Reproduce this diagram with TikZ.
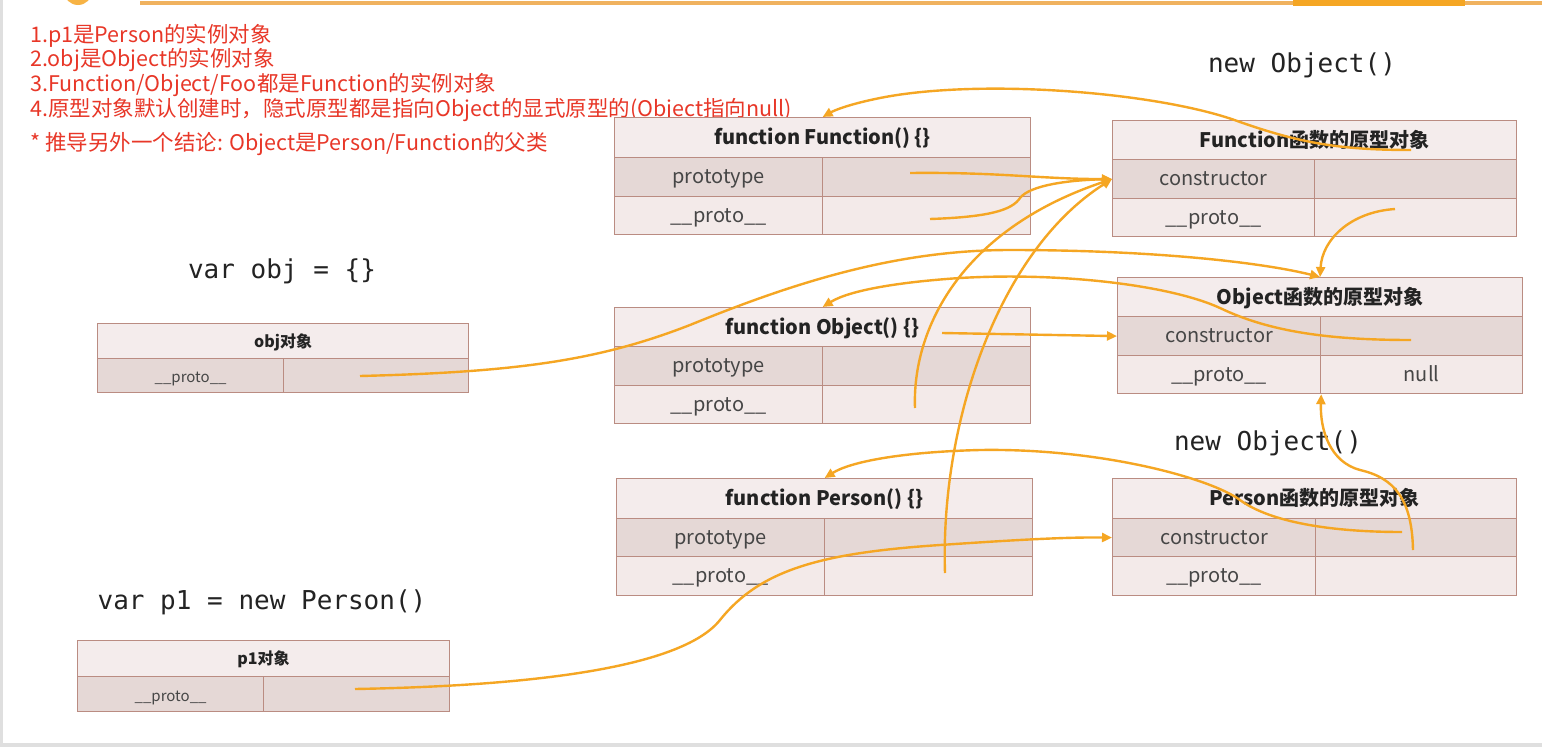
\documentclass[tikz,border=0pt]{standalone}
\usepackage{fontspec}
\setmainfont{Noto Sans CJK SC}
\newfontfamily\codefont{DejaVu Sans Mono}
\usetikzlibrary{arrows.meta}
\definecolor{bordc}{RGB}{186,140,130}
\definecolor{hdrc}{RGB}{244,236,236}
\definecolor{darkc}{RGB}{229,216,214}
\definecolor{lightc}{RGB}{243,234,233}
\definecolor{arrc}{RGB}{245,166,35}
\definecolor{topc}{RGB}{240,178,95}
\definecolor{redc}{RGB}{232,55,40}
\definecolor{txtc}{RGB}{35,35,35}
\definecolor{keyc}{RGB}{70,70,70}
\begin{document}
\begin{tikzpicture}[x=1pt,y=-1pt,
 cell/.style={draw=bordc, line width=1.2pt, inner sep=0pt, anchor=north west, text=keyc},
 hdr/.style={cell, fill=hdrc, text=txtc, text height=16pt, text depth=2pt, font=\bfseries\fontsize{20}{22}\selectfont},
 drk/.style={cell, fill=darkc, text height=15pt, text depth=2pt, font=\fontsize{20}{22}\selectfont},
 lgt/.style={cell, fill=lightc, text height=15pt, text depth=2pt, font=\fontsize{20}{22}\selectfont},
 shdr/.style={cell, fill=hdrc, text=txtc, text height=13pt, text depth=1pt, font=\bfseries\fontsize{16}{18}\selectfont},
 sdrk/.style={cell, fill=darkc, text height=14pt, text depth=0pt, font=\fontsize{15}{17}\selectfont},
 code/.style={inner sep=0pt, text=txtc, font=\codefont\fontsize{26}{28}\selectfont},
 note/.style={inner sep=0pt, anchor=base west, text=redc, font=\fontsize{21.5}{24}\selectfont},
 arr/.style={draw=arrc, line width=2.4pt, -{Triangle[length=10pt,width=9pt]}}
]
\useasboundingbox (0,0) rectangle (1542,747);
\fill[white] (0,0) rectangle (1542,747);
\fill[gray!25] (0,743) rectangle (1542,747);
\fill[gray!25] (0,0) rectangle (3,747);
\fill[topc] (140,1) rectangle (1542,5);
\fill[arrc] (1293,0) rectangle (1465,6);
\fill[arrc!85] (78,-9) circle (14);

% notes
\node[note] (n1) at (30,42) {1.p1是Person的实例对象};
\node[note] (n2) at (30,66) {2.obj是Object的实例对象};
\node[note] (n3) at (30,91) {3.Function/Object/Foo都是Function的实例对象};
\node[note] (n4) at (30,116) {4.原型对象默认创建时，隐式原型都是指向Object的显式原型的(Object指向null)};
\node[note] (n5) at (30,150) {* 推导另外一个结论: Object是Person/Function的父类};

% code labels
\node[code] (c1) at (1302,65) {new Object()};
\node[code] (c2) at (282,271) {var obj = \{\}};
\node[code] (c3) at (1268,443) {new Object()};
\node[code] (c4) at (262,602) {var p1 = new Person()};

% function Function
\node[hdr, minimum width=416, minimum height=40] (ffh) at (614,117) {function Function() \{\}};
\node[drk, minimum width=208, minimum height=39] (ffpk) at (614,157) {prototype};
\node[drk, minimum width=208, minimum height=39] (ffpv) at (822,157) {};
\node[lgt, minimum width=208, minimum height=38] (ffqk) at (614,196) {\_\_proto\_\_};
\node[lgt, minimum width=208, minimum height=38] (ffqv) at (822,196) {};

% Function prototype object
\node[hdr, minimum width=404, minimum height=39] (fpoh) at (1112,120) {Function函数的原型对象};
\node[drk, minimum width=202, minimum height=39] (fpoc) at (1112,159) {constructor};
\node[drk, minimum width=202, minimum height=39] (fpocv) at (1314,159) {};
\node[lgt, minimum width=202, minimum height=38] (fpoq) at (1112,198) {\_\_proto\_\_};
\node[lgt, minimum width=202, minimum height=38] (fpoqv) at (1314,198) {};

% function Object
\node[hdr, minimum width=416, minimum height=39] (foh) at (614,307) {function Object() \{\}};
\node[drk, minimum width=208, minimum height=39] (fopk) at (614,346) {prototype};
\node[drk, minimum width=208, minimum height=39] (fopv) at (822,346) {};
\node[lgt, minimum width=208, minimum height=38] (foqk) at (614,385) {\_\_proto\_\_};
\node[lgt, minimum width=208, minimum height=38] (foqv) at (822,385) {};

% Object prototype object
\node[hdr, minimum width=405, minimum height=39] (oph) at (1117,277) {Object函数的原型对象};
\node[drk, minimum width=203, minimum height=39] (opc) at (1117,316) {constructor};
\node[drk, minimum width=202, minimum height=39] (opcv) at (1320,316) {};
\node[lgt, minimum width=203, minimum height=38] (opq) at (1117,355) {\_\_proto\_\_};
\node[lgt, minimum width=202, minimum height=38] (opqv) at (1320,355) {null};

% function Person
\node[hdr, minimum width=416, minimum height=40] (fph) at (616,478) {function Person() \{\}};
\node[drk, minimum width=208, minimum height=38] (fppk) at (616,518) {prototype};
\node[drk, minimum width=208, minimum height=38] (fppv) at (824,518) {};
\node[lgt, minimum width=208, minimum height=39] (fpqk) at (616,556) {\_\_proto\_\_};
\node[lgt, minimum width=208, minimum height=39] (fpqv) at (824,556) {};

% Person prototype object
\node[hdr, minimum width=404, minimum height=40] (pph) at (1112,478) {Person函数的原型对象};
\node[drk, minimum width=203, minimum height=38] (ppc) at (1112,518) {constructor};
\node[drk, minimum width=201, minimum height=38] (ppcv) at (1315,518) {};
\node[lgt, minimum width=203, minimum height=39] (ppq) at (1112,556) {\_\_proto\_\_};
\node[lgt, minimum width=201, minimum height=39] (ppqv) at (1315,556) {};

% obj object
\node[shdr, minimum width=371, minimum height=35] (objh) at (97,323) {obj对象};
\node[sdrk, minimum width=186, minimum height=34] (objq) at (97,358) {\_\_proto\_\_};
\node[sdrk, minimum width=185, minimum height=34] (objqv) at (283,358) {};

% p1 object
\node[shdr, minimum width=372, minimum height=36] (p1h) at (77,640) {p1对象};
\node[sdrk, minimum width=186, minimum height=35] (p1q) at (77,676) {\_\_proto\_\_};
\node[sdrk, minimum width=186, minimum height=35] (p1qv) at (263,676) {};

% arrow start points
\coordinate (sA) at (1411,150);
\coordinate (sB) at (910,173);
\coordinate (sC) at (930,219);
\coordinate (sD) at (915,408);
\coordinate (sE) at (945,573);
\coordinate (sF) at (1395,209);
\coordinate (sG) at (360,376);
\coordinate (sH) at (1411,340);
\coordinate (sI) at (942,333);
\coordinate (sJ) at (1402,532);
\coordinate (sK) at (355,689);
\coordinate (sL) at (1413,550);

% arrows
\draw[arr] (sA) .. controls (1340,150) and (1300,143) .. (1240,122)
  .. controls (1160,92) and (980,78) .. (880,98)
  .. controls (850,104) and (835,110) .. (ffh.north);
\draw[arr] (sB) .. controls (1000,172) and (1040,179) .. (fpoc.west);
\draw[arr] (sC) .. controls (990,217) and (1012,210) .. (1020,198)
  .. controls (1030,185) and (1070,180) .. (fpoc.west);
\draw[arr] (sD) .. controls (912,330) and (960,230) .. (fpoc.west);
\draw[arr] (sE) .. controls (940,420) and (1000,250) .. (fpoc.west);
\draw[arr] (sF) .. controls (1350,212) and (1322,240) .. (oph.north);
\draw[arr] (sG) .. controls (520,372) and (600,360) .. (690,325)
  .. controls (800,280) and (900,250) .. (1010,250)
  .. controls (1150,250) and (1260,262) .. (oph.north);
\draw[arr] (sH) .. controls (1330,340) and (1270,332) .. (1220,308)
  .. controls (1170,285) and (1060,272) .. (960,278)
  .. controls (900,282) and (850,290) .. (foh.north);
\draw[arr] (sI) -- (opc.west);
\draw[arr] (sJ) .. controls (1330,532) and (1270,522) .. (1240,500)
  .. controls (1210,478) and (1100,448) .. (980,450)
  .. controls (900,452) and (850,462) .. (fph.north);
\draw[arr] (sK) .. controls (520,686) and (680,670) .. (720,620)
  .. controls (760,570) and (820,553) .. (940,545)
  .. controls (1000,541) and (1060,537) .. (ppc.west);
\draw[arr] (sL) .. controls (1412,500) and (1395,478) .. (1360,470)
  .. controls (1330,462) and (1320,430) .. (opq.south east);
\end{tikzpicture}
\end{document}
